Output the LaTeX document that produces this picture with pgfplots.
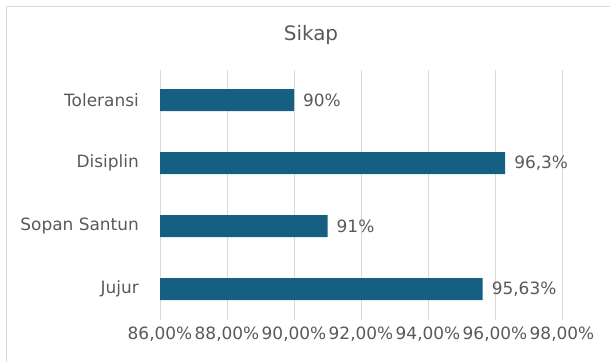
\documentclass[border=0pt]{standalone}
\usepackage{pgfplots}
\pgfplotsset{compat=1.18}
\usepackage{pgfplotstable}
\usepackage{fontspec}
\setmainfont{DejaVu Sans}

\definecolor{barblue}{HTML}{156082}
\definecolor{txtgray}{HTML}{595959}
\definecolor{gridgray}{HTML}{D9D9D9}

% Attitude scores (percent); label column holds the printed value
\pgfplotstableread{
pos value label
0 95.63 95,63
1 91    91
2 96.3  96,3
3 90    90
}\sikapdata

\begin{document}
\begin{tikzpicture}[x=1bp,y=1bp]
\useasboundingbox (0,0) rectangle (610,361);
% chart frame
\draw[gridgray, line width=1.3bp] (6.5,-20) -- (6.5,354.5) -- (640,354.5);
% title
\node[anchor=base, font=\fontsize{20}{24}\selectfont, text=txtgray] at (311,320.4) {Sikap};
\begin{axis}[
  at={(160bp,41bp)}, anchor=south west,
  scale only axis, width=402bp, height=250bp,
  xmin=86, xmax=98, ymin=-0.49, ymax=3.48,
  xbar, bar width=22bp,
  xtick={86,88,...,98},
  xticklabels={{86,00\%},{88,00\%},{90,00\%},{92,00\%},{94,00\%},{96,00\%},{98,00\%}},
  ytick={0,1,2,3},
  yticklabels={Jujur,Sopan Santun,Disiplin,Toleransi},
  xmajorgrids,
  major grid style={gridgray, line width=1bp},
  axis line style={draw=none},
  major tick length=0pt,
  tick label style={font=\fontsize{17}{20}\selectfont, text=txtgray, inner sep=0pt},
  xticklabel shift=7bp,
  yticklabel shift=21bp,
  nodes near coords={\pgfplotspointmeta\%},
  nodes near coords style={anchor=west, inner sep=0pt, xshift=9bp,
    font=\fontsize{17}{20}\selectfont, text=txtgray},
  point meta=explicit symbolic,
]
\addplot[fill=barblue, draw=none] table[x=value, y=pos, meta=label] {\sikapdata};
\end{axis}
\end{tikzpicture}
\end{document}
